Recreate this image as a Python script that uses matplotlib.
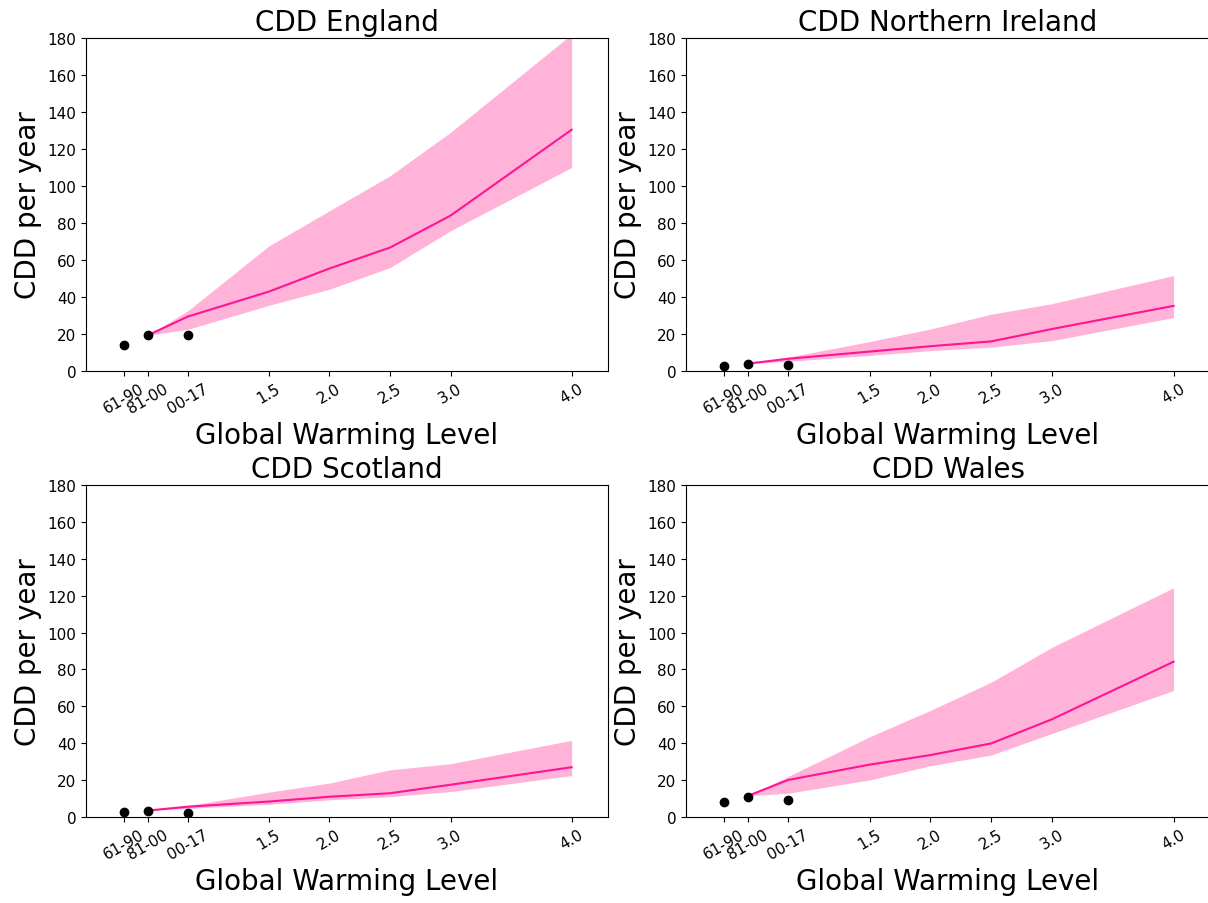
import matplotlib
matplotlib.use('Agg')
import numpy as np
import matplotlib.pyplot as plt

# observed periods and their warming level position on the x axis
obs_x = [0.3, 0.5, 0.83]
obs_labels = ['61-90', '81-00', '00-17']
gwl = [1.5, 2.0, 2.5, 3.0, 4.0]
proj_x = [0.5, 0.83] + gwl

eng_obs = [13.9, 19.3, 19.3]
eng_med = [19.3, 29.4, 42.9, 55.4, 66.7, 84.0, 130.4]
eng_hi = [19.3, 32.5, 67.6, 86.6, 105.5, 129.0, 182.0]
eng_lo = [19.3, 22.5, 35.5, 44.2, 55.9, 75.8, 110.0]

ni_obs = [2.9, 3.9, 3.4]
ni_med = [4.0, 6.6, 10.5, 13.4, 16.0, 22.7, 35.2]
ni_hi = [4.0, 7.5, 15.9, 22.7, 30.7, 36.4, 51.6]
ni_lo = [4.0, 5.2, 8.4, 11.0, 12.9, 16.4, 28.9]

sco_obs = [2.7, 3.3, 2.0]
sco_med = [3.5, 5.6, 8.4, 11.0, 12.9, 17.5, 27.0]
sco_hi = [3.5, 6.2, 13.5, 18.4, 25.6, 28.9, 41.6]
sco_lo = [3.5, 4.7, 6.9, 9.3, 11.0, 13.8, 22.5]

wal_obs = [8.1, 11.1, 9.2]
wal_med = [11.5, 20.1, 28.4, 33.6, 39.9, 53.0, 84.2]
wal_hi = [11.5, 22.0, 43.5, 57.8, 73.1, 92.0, 124.3]
wal_lo = [11.5, 12.9, 20.1, 27.8, 33.6, 45.3, 68.6]


def cdd_panel(ax, region, obs, med, lo, hi):
    ax.fill_between(proj_x, lo, hi, color='hotpink', alpha=0.5, lw=0)
    ax.plot(proj_x, med, color='deeppink', lw=1.5)
    ax.plot(obs_x, obs, 'ko', ms=6)
    ax.set_xticks(obs_x + gwl)
    ax.set_xticklabels(obs_labels + [str(g) for g in gwl], rotation=30)
    ax.tick_params(labelsize=11)
    ax.set_xlim(-0.01, 4.3)
    ax.set_ylim(0, 180)
    ax.set_yticks(np.arange(0, 181, 20))
    ax.set_title('CDD ' + region, fontsize=20)
    ax.set_ylabel('CDD per year', fontsize=20)
    ax.set_xlabel('Global Warming Level', fontsize=20)


fig = plt.figure(figsize=(12.08, 9.04), dpi=100)
ax1 = fig.add_axes([0.0712, 0.5885, 0.4321, 0.3684])
ax2 = fig.add_axes([0.5679, 0.5885, 0.4338, 0.3684])
ax3 = fig.add_axes([0.0712, 0.0951, 0.4321, 0.3673])
ax4 = fig.add_axes([0.5679, 0.0951, 0.4338, 0.3673])

cdd_panel(ax1, 'England', eng_obs, eng_med, eng_lo, eng_hi)
cdd_panel(ax2, 'Northern Ireland', ni_obs, ni_med, ni_lo, ni_hi)
cdd_panel(ax3, 'Scotland', sco_obs, sco_med, sco_lo, sco_hi)
cdd_panel(ax4, 'Wales', wal_obs, wal_med, wal_lo, wal_hi)

fig.savefig('out.png', dpi=100)
